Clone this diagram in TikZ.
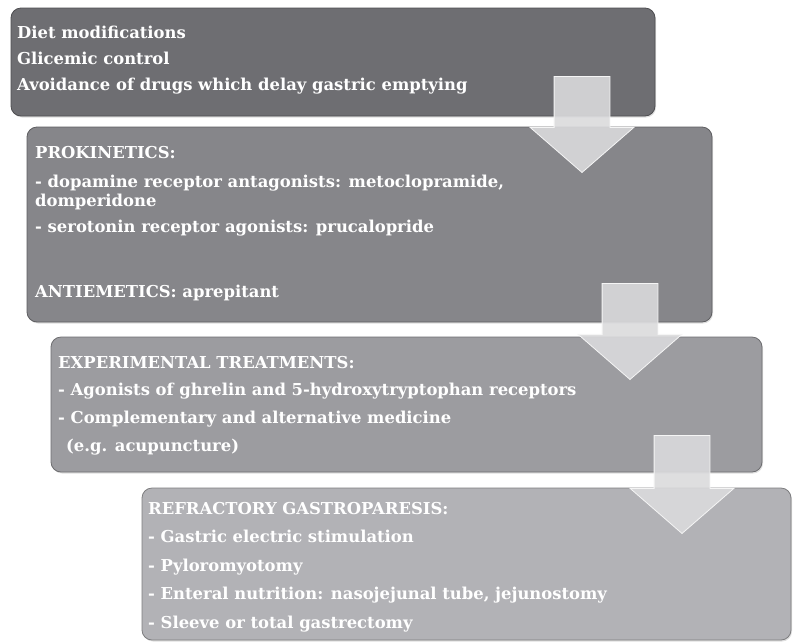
\documentclass[tikz,border=0pt]{standalone}
\usepackage{fontspec}
\setmainfont{DejaVu Serif}
\usetikzlibrary{shapes.arrows,shadows}

\definecolor{step1_fill}{RGB}{110,110,114}
\definecolor{step2_fill}{RGB}{134,134,138}
\definecolor{step3_fill}{RGB}{156,156,160}
\definecolor{step4_fill}{RGB}{178,178,182}
\definecolor{arrow_fill}{RGB}{218,218,220}

\begin{document}
\begin{tikzpicture}[x=1pt, y=-1pt]
    \tikzstyle{box_style}=[rectangle, rounded corners=10pt, anchor=north west, outer sep=0pt, line width=0.8pt,
      drop shadow={opacity=0.25, shadow xshift=1pt, shadow yshift=-1.5pt}]
    \tikzstyle{text_style}=[anchor=base west, inner sep=0pt, text=white, font=\bfseries\fontsize{16.4}{19}\selectfont]
    \tikzstyle{arrow_style}=[single arrow, shape border rotate=270, anchor=tip, inner sep=27.5pt,
      fill=arrow_fill, fill opacity=0.9, draw=white!92!gray, line width=0.8pt,
      minimum width=103pt, single arrow head extend=24pt, single arrow tip angle=98]

    \useasboundingbox (0,0) rectangle (793,641);

    % step 1
    \node at (11, 8) [box_style, fill=step1_fill, draw=step1_fill!70!black,
      minimum width=644pt, minimum height=108pt] (step1) {};
    \foreach \t [count=\i from 0] in {Diet modifications, Glicemic control,
        Avoidance of drugs which delay gastric emptying}
      \node at (17, 38 + \i*26) [text_style] (step1_\i) {\t};

    % step 2
    \node at (27, 127) [box_style, fill=step2_fill, draw=step2_fill!70!black,
      minimum width=685pt, minimum height=195pt] (step2) {};
    \node at (35, 158) [text_style] (step2_0) {PROKINETICS:};
    \node at (35, 187) [text_style] (step2_1) {- dopamine receptor antagonists: metoclopramide,};
    \node at (35, 206) [text_style] (step2_2) {domperidone};
    \node at (35, 232) [text_style] (step2_3) {- serotonin receptor agonists: prucalopride};
    \node at (35, 297) [text_style] (step2_4) {ANTIEMETICS: aprepitant};

    % step 3
    \node at (51, 337) [box_style, fill=step3_fill, draw=step3_fill!70!black,
      minimum width=711pt, minimum height=135pt] (step3) {};
    \foreach \t [count=\i from 0] in {EXPERIMENTAL TREATMENTS:,
        - Agonists of ghrelin and 5-hydroxytryptophan receptors,
        - Complementary and alternative medicine,
        \hspace{8pt}(e.g. acupuncture)}
      \node at (58, 368 + \i*27.7) [text_style] (step3_\i) {\t};

    % step 4
    \node at (142, 488) [box_style, fill=step4_fill, draw=step4_fill!70!black,
      minimum width=649pt, minimum height=152pt] (step4) {};
    \foreach \t [count=\i from 0] in {REFRACTORY GASTROPARESIS:,
        - Gastric electric stimulation, - Pyloromyotomy,
        {- Enteral nutrition: nasojejunal tube, jejunostomy},
        - Sleeve or total gastrectomy}
      \node at (148, 514 + \i*28.5) [text_style] (step4_\i) {\t};

    % arrows between the steps
    \node at (582, 173) [arrow_style, minimum height=96pt] (arrow_12) {};
    \node at (630, 380) [arrow_style, minimum height=96pt] (arrow_23) {};
    \node at (682, 534) [arrow_style, minimum height=98pt] (arrow_34) {};
\end{tikzpicture}
\end{document}
